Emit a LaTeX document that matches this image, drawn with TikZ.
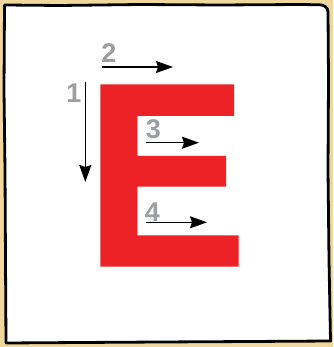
\documentclass[tikz,border=0pt]{standalone}
\usepackage{fontspec}
\setmainfont{Liberation Sans}
\usetikzlibrary{arrows.meta}
\definecolor{tan}{HTML}{F2D79C}
\definecolor{ered}{HTML}{EC2227}
\definecolor{lgray}{HTML}{9C9EA1}
\begin{document}
\begin{tikzpicture}[x=1pt,y=-1pt,
  numlabel/.style={text=lgray,font=\bfseries\fontsize{27}{27}\selectfont,inner sep=0pt},
  stroke/.style={line width=1.6pt,black,-{Stealth[length=17pt,width=12pt,inset=2pt]}}]
\useasboundingbox (0,0) rectangle (333,347);
\fill[tan] (0,0) rectangle (333,347);
% hand-drawn frame
\draw[line width=2.8pt,fill=white,line join=round]
  (4.5,5) -- (60,5.5) -- (140,4.5) -- (220,5) -- (300,4.5) -- (320,4.8)
  to[out=0,in=90] (328,12) -- (328.5,80) -- (328,170) -- (329,260) -- (330.5,341)
  -- (250,341.5) -- (160,342) -- (80,342.5) -- (6,343)
  -- (5.5,260) -- (5,170) -- (4,90) -- cycle;
% the letter E
\fill[ered] (100.3,84.3) -- (234,84.3) -- (234,116) -- (137.3,116)
  -- (137.3,156) -- (226,156) -- (226,186.7) -- (137.3,186.7)
  -- (137.3,235.3) -- (238.7,235.3) -- (238.7,266.7) -- (100.3,266.7) -- cycle;
% labels
\node[numlabel] (n1) at (74,93) {1};
\node[numlabel] (n2) at (109,53) {2};
\node[numlabel] (n3) at (153.5,129) {3};
\node[numlabel] (n4) at (152.5,212) {4};
% arrow ends
\coordinate (a1s) at (85.3,82);
\coordinate (a1e) at (85.3,182);
\coordinate (a2s) at (102,67);
\coordinate (a2e) at (173,67);
\coordinate (a3s) at (146,142.7);
\coordinate (a3e) at (199,142.7);
\coordinate (a4s) at (146,222.3);
\coordinate (a4e) at (207,222.3);
\draw[stroke] (a1s) -- (a1e);
\draw[stroke] (a2s) -- (a2e);
\draw[stroke] (a3s) -- (a3e);
\draw[stroke] (a4s) -- (a4e);
\end{tikzpicture}
\end{document}
